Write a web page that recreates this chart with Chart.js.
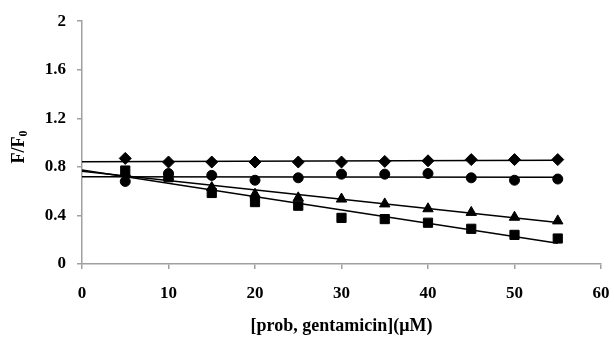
<!DOCTYPE html>
<html>
<head>
<meta charset="utf-8">
<script src="https://cdn.jsdelivr.net/npm/chart.js@4.4.1/dist/chart.umd.min.js"></script>
<style>
    html, body { margin: 0; padding: 0; background: #fff; }
    #wrap { width: 614px; height: 337px; }
</style>
</head>
<body>
<div id="wrap"><canvas id="chart-fluorescence"></canvas></div>
<script>
    // Gentamicin concentration (uM) and F/F0 for each probe series
    const concentrations = [5, 10, 15, 20, 25, 30, 35, 40, 45, 50, 55];
    const diamondVals  = [0.87, 0.84, 0.84, 0.84, 0.84, 0.84, 0.845, 0.85, 0.86, 0.86, 0.86];
    const circleVals   = [0.68, 0.745, 0.73, 0.69, 0.71, 0.74, 0.74, 0.745, 0.71, 0.69, 0.70];
    const triangleVals = [0.75, 0.72, 0.63, 0.575, 0.545, 0.535, 0.495, 0.455, 0.425, 0.385, 0.355];
    const squareVals   = [0.77, 0.715, 0.585, 0.51, 0.48, 0.38, 0.37, 0.34, 0.29, 0.24, 0.21];

    const xTicks = [0, 10, 20, 30, 40, 50, 60];
    const yTicks = [0, 0.4, 0.8, 1.2, 1.6, 2];
    const trendFrom = 0;
    const trendTo = 55;

    const FONT = '"Liberation Serif", "Times New Roman", serif';
    const AXIS_GREY = '#a0a0a0';

    // Least squares line, returned as its two end points
    const linearTrend = function(xs, ys) {
        const n = xs.length;
        const mx = xs.reduce((a, b) => a + b, 0) / n;
        const my = ys.reduce((a, b) => a + b, 0) / n;
        let sxy = 0, sxx = 0;
        xs.forEach((x, i) => {
            sxy += (x - mx) * (ys[i] - my);
            sxx += (x - mx) * (x - mx);
        });
        const slope = sxy / sxx;
        const b = my - slope * mx;
        return [
            { x: trendFrom, y: b + slope * trendFrom },
            { x: trendTo, y: b + slope * trendTo }
        ];
    };

    const toPoints = vals => concentrations.map((x, i) => ({ x: x, y: vals[i] }));

    const markerSet = function(vals, style, radius) {
        return {
            type: 'scatter',
            data: toPoints(vals),
            pointStyle: style,
            pointRadius: radius,
            pointHoverRadius: radius,
            backgroundColor: '#000',
            borderColor: '#000',
            borderWidth: 1,
            showLine: false,
            order: 0
        };
    };

    const trendSet = function(vals) {
        return {
            type: 'line',
            data: linearTrend(concentrations, vals),
            borderColor: '#000',
            borderWidth: 1.5,
            pointRadius: 0,
            fill: false,
            order: 1
        };
    };

    // Rotated y title with a real subscript
    const yTitlePlugin = {
        id: 'yTitle',
        afterDraw(chart) {
            const ctx = chart.ctx;
            ctx.save();
            ctx.translate(19, 147);
            ctx.rotate(-Math.PI / 2);
            ctx.fillStyle = '#000';
            ctx.textBaseline = 'middle';
            ctx.textAlign = 'left';
            ctx.font = 'bold 18px ' + FONT;
            const main = 'F/F';
            const wMain = ctx.measureText(main).width;
            ctx.font = 'bold 12px ' + FONT;
            const wSub = ctx.measureText('0').width;
            const start = -(wMain + wSub) / 2;
            ctx.font = 'bold 18px ' + FONT;
            ctx.fillText(main, start, 0);
            ctx.font = 'bold 12px ' + FONT;
            ctx.fillText('0', start + wMain, 5);
            ctx.restore();
        }
    };

    new Chart(document.getElementById('chart-fluorescence').getContext('2d'), {
        type: 'scatter',
        data: {
            datasets: [
                markerSet(diamondVals, 'rectRot', 6),
                markerSet(circleVals, 'circle', 5),
                markerSet(triangleVals, 'triangle', 6),
                markerSet(squareVals, 'rect', 6.5),
                trendSet(diamondVals),
                trendSet(circleVals),
                trendSet(triangleVals),
                trendSet(squareVals)
            ]
        },
        options: {
            responsive: true,
            maintainAspectRatio: false,
            animation: false,
            layout: { padding: { top: 20, right: 13, left: 0, bottom: 0 } },
            plugins: {
                legend: { display: false },
                tooltip: { enabled: false }
            },
            scales: {
                x: {
                    type: 'linear',
                    min: 0,
                    max: 60,
                    afterBuildTicks: scale => { scale.ticks = xTicks.map(v => ({ value: v })); },
                    afterFit: scale => {
                        scale.height = 73;
                        // the "60" label fits inside the right padding
                        scale.paddingRight = 0;
                    },
                    grid: { drawOnChartArea: false, drawTicks: true, tickLength: 5, color: AXIS_GREY, lineWidth: 1.5 },
                    border: { color: AXIS_GREY, width: 1.5 },
                    ticks: {
                        color: '#000',
                        padding: 14,
                        maxRotation: 0,
                        font: { family: FONT, size: 17, weight: 'bold' }
                    },
                    title: {
                        display: true,
                        text: '[prob, gentamicin](\u03bcM)',
                        color: '#000',
                        padding: { top: 0, bottom: 0 },
                        font: { family: FONT, size: 18, weight: 'bold' }
                    }
                },
                y: {
                    min: 0,
                    max: 2,
                    afterBuildTicks: scale => { scale.ticks = yTicks.map(v => ({ value: v })); },
                    afterFit: scale => { scale.width = 82; },
                    grid: { drawOnChartArea: false, drawTicks: true, tickLength: 5, color: AXIS_GREY, lineWidth: 1.5 },
                    border: { color: AXIS_GREY, width: 1.5 },
                    ticks: {
                        color: '#000',
                        padding: 11,
                        callback: v => String(v),
                        font: { family: FONT, size: 17, weight: 'bold' }
                    }
                }
            }
        },
        plugins: [yTitlePlugin]
    });
</script>
</body>
</html>
